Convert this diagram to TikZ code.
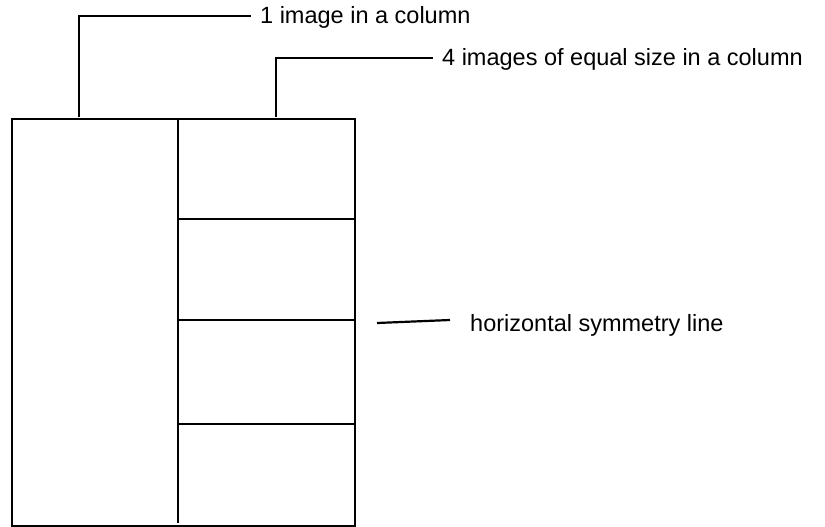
\documentclass[tikz,border=0pt]{standalone}
\usepackage{fontspec}
\setmainfont{Liberation Sans}
\usetikzlibrary{positioning,calc}
\tikzset{
  framebox/.style={draw=black,line width=2.2pt,rectangle,inner sep=0pt,
    minimum width=343pt,minimum height=407pt},
  gridline/.style={line width=2.2pt,draw=black},
  calloutline/.style={line width=2.2pt,draw=black},
  calloutlabel/.style={font=\fontsize{23.5}{28}\selectfont,
    inner xsep=9pt,inner ysep=2pt,anchor=base west},
}

\begin{document}
\begin{tikzpicture}[x=1pt,y=-1pt]
  \useasboundingbox (0,0) rectangle (825,527);
  % the frame, split into two columns
  \node[framebox,anchor=north west] (frame) at (11,118) {};
  \coordinate (divtop) at (178,118);
  \coordinate (divbot) at (178,523);
  \draw[gridline] (divtop) -- (divbot);
  % right column: four cells
  \foreach \y in {219,320,424}
    \draw[gridline] (divtop |- 0,\y) -- (frame.east |- 0,\y);
  % callouts
  \node[calloutlabel] (onelab) at (251,24) {1 image in a column};
  \node[calloutlabel] (fourlab) at (433,66) {4 images of equal size in a column};
  \node[calloutlabel] (symlab) at (461,331) {horizontal symmetry line};
  \coordinate (onefoot) at (79,117);
  \coordinate (fourfoot) at (276,117);
  \coordinate (symleft) at (377,323);
  \coordinate (symright) at (450,320);
  \draw[calloutline] (onefoot) |- ([yshift=2pt]onelab.west);
  \draw[calloutline] (fourfoot) |- ([yshift=2pt]fourlab.west);
  \draw[calloutline] (symleft) -- (symright);
\end{tikzpicture}
\end{document}
